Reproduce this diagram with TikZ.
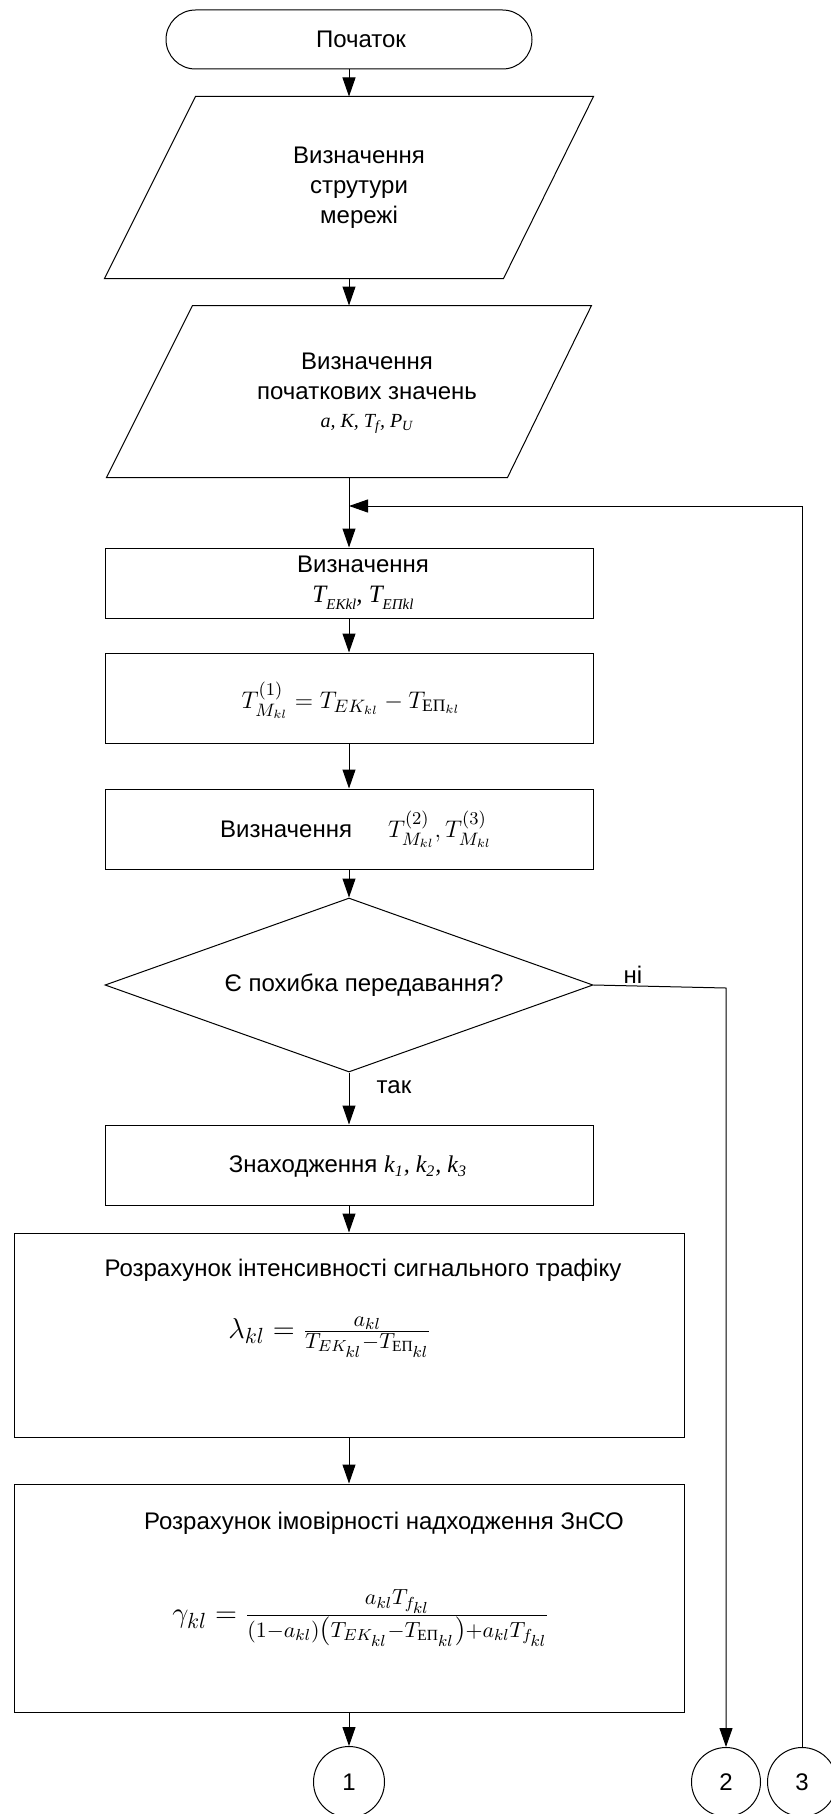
\documentclass[tikz,border=0pt]{standalone}
\usepackage{amsmath}
\usepackage[no-math]{fontspec}
\setmainfont{Liberation Sans}
\newfontfamily\serifit{Liberation Serif}
\usetikzlibrary{arrows.meta,shapes.geometric,calc}

% upright Cyrillic index inside formulas
\newcommand{\EPi}{\text{\serifit ЕП}}
% italic serif symbol with a small lowered index
\newcommand{\symidx}[2]{#1\raisebox{-0.28em}{\fontsize{7.5}{8}\selectfont #2}}

\begin{document}
\begin{tikzpicture}[x=0.5pt,y=-0.5pt,
  font=\fontsize{12}{15}\selectfont,
  line width=0.5pt,
  arr/.style={draw, -{Triangle[length=9.5pt,width=6.5pt]}},
  procbox/.style={draw, rectangle, inner sep=0pt, minimum width=244pt},
  frame/.style={rectangle, inner sep=0pt},
  txt/.style={inner sep=0pt, align=center},
  mathtxt/.style={inner sep=0pt, font=\fontsize{12.5}{15}\selectfont},
  bigmath/.style={inner sep=0pt, font=\fontsize{15.5}{18}\selectfont},
  conn/.style={draw, circle, inner sep=0pt, minimum size=35pt},
  ]
\useasboundingbox (0,0) rectangle (830,1814);

% terminal
\node[draw, rectangle, rounded corners=14.75pt, minimum width=183pt,
      minimum height=29.5pt, inner sep=0pt] (start) at (349,39.5) {};
\node[txt] (startT) at (361,39.5) {Початок};

% input: network structure
\node[frame, minimum width=244pt, minimum height=90.5pt] (p1) at (349,187.5) {};
\draw ($(p1.north west)+(91,0)$) -- (p1.north east)
      -- ($(p1.south east)+(-90,0)$) -- (p1.south west) -- cycle;
\node[txt] (p1T) at (359,188) {Визначення\\струтури\\мережі};

% input: initial values
\node[frame, minimum width=242pt, minimum height=85.5pt] (p2) at (349,391.5) {};
\draw ($(p2.north west)+(86,0)$) -- (p2.north east)
      -- ($(p2.south east)+(-84,0)$) -- (p2.south west) -- cycle;
\node[txt] (p2T) at (367,393) {Визначення\\початкових значень\\[-1pt]
  {\serifit\itshape\fontsize{10}{12}\selectfont a, K, T\textsubscript{f}, P\textsubscript{U}}};

\coordinate (join) at (349,506);

% processing steps
\node[procbox, minimum height=35pt] (b1) at (349,583) {};
\node[txt] (b1T) at (363,583) {Визначення\\
  {\serifit\itshape\fontsize{12.5}{14}\selectfont \symidx{T}{EKkl}, \symidx{T}{EПkl}}};

\node[procbox, minimum height=45pt] (b2) at (349,698) {};
\node[mathtxt] (b2T) at (351,700) {$T^{(1)}_{M_{kl}} = T_{EK_{kl}} - T_{\EPi_{kl}}$};

\node[procbox, minimum height=40pt] (b3) at (349,829) {};
\node[txt] (b3T) at (356,829) {Визначення\hspace{18pt}{\fontsize{12.5}{15}\selectfont$T^{(2)}_{M_{kl}}, T^{(3)}_{M_{kl}}$}};

% decision
\node[draw, diamond, aspect=2.8, minimum width=244pt, minimum height=87pt,
      inner sep=0pt] (d) at (349,985) {};
\node[txt] (dT) at (364,985) {Є похибка передавання?};
\node[txt] (no) at (633,975) {ні};
\node[txt] (yes) at (394,1087) {так};
\coordinate (bend) at (726,988);

\node[procbox, minimum height=40pt] (b4) at (349,1165) {};
\node[txt] (b4T) at (348,1167) {Знаходження
  {\serifit\itshape k\textsubscript{1}, k\textsubscript{2}, k\textsubscript{3}}};

\node[draw, rectangle, inner sep=0pt, minimum width=335pt, minimum height=102pt] (b5) at (349,1335) {};
\node[txt] (b5T) at (363,1270) {Розрахунок інтенсивності сигнального трафіку};
\node[bigmath] (b5F) at (330,1337)
  {$\lambda_{kl} = \frac{a_{kl}}{T_{EK_{kl}}-T_{\EPi_{kl}}}$};

\node[draw, rectangle, inner sep=0pt, minimum width=335pt, minimum height=114pt] (b6) at (349,1598) {};
\node[txt] (b6T) at (384,1523) {Розрахунок імовірності надходження ЗнСО};
\node[bigmath] (b6F) at (361,1618)
  {$\gamma_{kl} = \frac{a_{kl}T_{f_{kl}}}{(1-a_{kl})\left(T_{EK_{kl}}-T_{\EPi_{kl}}\right)+a_{kl}T_{f_{kl}}}$};

% off-page connectors
\node[conn, minimum size=35.5pt] (c1) at (349,1782) {1};
\node[conn, minimum size=34.5pt] (c2) at (726,1782) {2};
\node[conn, minimum size=34.5pt] (c3) at (802,1782) {3};

% flow lines
\draw[arr] (start.south) -- (p1.north);
\draw[arr] (p1.south) -- (p2.north);
\draw[arr] (p2.south) -- (b1.north);
\draw[arr] (c3.north) |- (join);
\draw[arr] (b1.south) -- (b2.north);
\draw[arr] (b2.south) -- (b3.north);
\draw[arr] (b3.south) -- (d.north);
\draw[arr] (d.south) -- (b4.north);
\draw[arr] (d.east) -- (bend) -- (c2.north);
\draw[arr] (b4.south) -- (b5.north);
\draw[arr] (b5.south) -- (b6.north);
\draw[arr] (b6.south) -- (c1.north);
\end{tikzpicture}
\end{document}
